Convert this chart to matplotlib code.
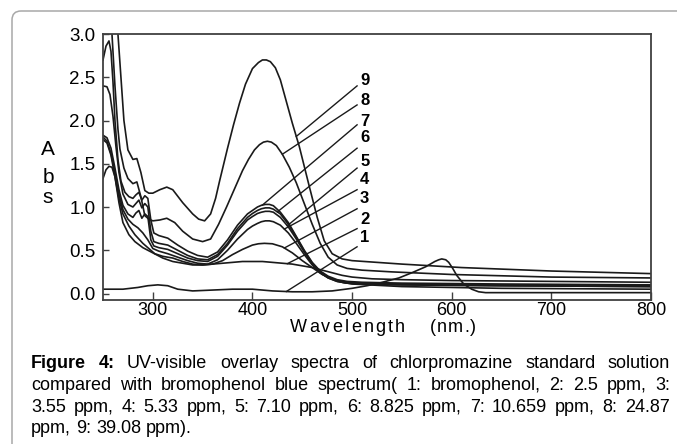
import numpy as np
import matplotlib
matplotlib.use('Agg')
import matplotlib.pyplot as plt
from matplotlib.patches import FancyBboxPatch

plt.rcParams['font.family'] = ['Liberation Sans', 'DejaVu Sans']

W, H = 677, 444

# spectra (wavelength nm, absorbance)
wl_1 = [250, 270, 285, 295, 305, 315, 325, 340, 360, 380, 400, 420, 440, 460, 480, 500,
        515, 527, 547, 560, 574, 583, 587, 590, 594, 597, 601, 605, 612, 620, 627, 634, 645, 660, 800]
abs_1 = [0.05, 0.05, 0.07, 0.09, 0.10, 0.09, 0.05, 0.03, 0.04, 0.05, 0.05, 0.03, 0.02, 0.02, 0.03, 0.06,
         0.09, 0.12, 0.18, 0.24, 0.31, 0.37, 0.39, 0.40, 0.39, 0.36, 0.29, 0.21, 0.11, 0.05, 0.02, 0.01, 0.01, 0.01, 0.01]

wl_2 = [250, 253, 256, 259, 262, 266, 270, 276, 282, 290, 300, 310, 320, 330, 340, 350, 360, 370,
        380, 390, 400, 410, 420, 430, 440, 450, 460, 470, 480, 490, 500, 520, 550, 600, 700, 800]
abs_2 = [1.33, 1.43, 1.47, 1.46, 1.35, 1.05, 0.82, 0.68, 0.60, 0.53, 0.47, 0.41, 0.37, 0.35, 0.33, 0.33, 0.34, 0.35,
         0.36, 0.37, 0.37, 0.37, 0.36, 0.35, 0.34, 0.32, 0.30, 0.27, 0.24, 0.21, 0.19, 0.17, 0.16, 0.15, 0.14, 0.13]

wl_3 = [250, 254, 258, 262, 266, 270, 276, 282, 290, 296, 302, 310, 320, 330, 340, 350, 360, 370, 380,
        390, 400, 406, 412, 420, 430, 440, 450, 460, 470, 480, 490, 500, 550, 650, 800]
abs_3 = [1.78, 1.74, 1.60, 1.35, 1.10, 0.92, 0.78, 0.68, 0.58, 0.52, 0.46, 0.43, 0.41, 0.37, 0.34, 0.33, 0.34, 0.38, 0.45,
         0.51, 0.56, 0.575, 0.58, 0.575, 0.54, 0.47, 0.38, 0.30, 0.22, 0.17, 0.13, 0.11, 0.08, 0.06, 0.05]

wl_4 = [250, 254, 258, 262, 266, 270, 275, 280, 285, 290, 295, 300, 306, 315, 325, 335, 345, 355, 365, 375,
        385, 395, 400, 405, 409, 413, 417, 421, 428, 436, 444, 452, 460, 468, 476, 485, 495, 510, 550, 650, 800]
abs_4 = [1.81, 1.76, 1.62, 1.40, 1.15, 0.97, 0.86, 0.80, 0.76, 0.70, 0.62, 0.52, 0.49, 0.46, 0.42, 0.38, 0.35, 0.34, 0.39, 0.50,
         0.63, 0.74, 0.78, 0.81, 0.83, 0.84, 0.84, 0.83, 0.79, 0.70, 0.58, 0.45, 0.33, 0.24, 0.18, 0.14, 0.12, 0.11, 0.10, 0.09, 0.08]

wl_5 = [250, 254, 258, 262, 266, 270, 275, 280, 283, 286, 289, 292, 295, 298, 301, 306, 315, 325, 335, 345, 355, 365,
        375, 385, 395, 400, 405, 409, 413, 417, 421, 428, 436, 444, 452, 460, 468, 476, 485, 495, 510, 550, 650, 800]
abs_5 = [1.83, 1.80, 1.68, 1.45, 1.20, 1.02, 0.92, 0.88, 0.93, 0.96, 0.87, 0.92, 0.89, 0.62, 0.55, 0.53, 0.51, 0.46, 0.41, 0.38, 0.37, 0.43,
         0.56, 0.72, 0.85, 0.89, 0.925, 0.94, 0.95, 0.95, 0.94, 0.88, 0.77, 0.63, 0.48, 0.34, 0.24, 0.18, 0.14, 0.12, 0.11, 0.10, 0.09, 0.08]

wl_6 = [250, 254, 257, 260, 263, 266, 270, 275, 280, 283, 286, 289, 292, 295, 298, 301, 306, 315, 325, 335, 345, 355, 365,
        375, 385, 395, 400, 405, 409, 413, 417, 421, 428, 436, 444, 452, 460, 468, 476, 485, 495, 510, 550, 650, 800]
abs_6 = [2.40, 2.39, 2.30, 2.05, 1.70, 1.40, 1.15, 1.03, 1.00, 1.04, 1.08, 0.99, 1.04, 1.00, 0.72, 0.60, 0.58, 0.56, 0.50, 0.44, 0.40, 0.39, 0.45,
         0.58, 0.75, 0.88, 0.925, 0.96, 0.98, 0.99, 0.99, 0.975, 0.92, 0.80, 0.65, 0.49, 0.35, 0.25, 0.19, 0.15, 0.13, 0.12, 0.11, 0.10, 0.09]

wl_7 = [250, 253, 256, 258, 260, 262, 265, 268, 272, 276, 280, 283, 286, 289, 292, 295, 298, 301, 306, 315, 325, 335, 345,
        355, 365, 375, 385, 395, 400, 405, 409, 413, 417, 421, 428, 436, 444, 452, 460, 468, 476, 485, 495, 510, 550, 650, 800]
abs_7 = [2.70, 2.86, 2.92, 2.80, 2.45, 2.00, 1.55, 1.30, 1.17, 1.12, 1.10, 1.14, 1.17, 1.08, 1.13, 1.10, 0.85, 0.70, 0.67, 0.64, 0.56, 0.49, 0.44,
         0.42, 0.48, 0.62, 0.79, 0.92, 0.96, 1.00, 1.02, 1.03, 1.03, 1.015, 0.94, 0.82, 0.66, 0.50, 0.36, 0.26, 0.20, 0.16, 0.14, 0.13, 0.12, 0.11, 0.10]

wl_8 = [250, 256, 259, 262, 265, 267, 271, 275, 280, 284, 288, 292, 296, 300, 307, 314, 322, 330, 340, 350, 358, 366,
        374, 382, 390, 396, 402, 407, 411, 415, 419, 424, 430, 437, 444, 452, 460, 468, 476, 485, 495, 510, 540, 600, 700, 800]
abs_8 = [3.60, 3.30, 3.00, 2.40, 1.90, 1.67, 1.45, 1.33, 1.27, 1.29, 1.12, 0.90, 0.86, 0.84, 0.85, 0.87, 0.82, 0.72, 0.63, 0.60, 0.63, 0.80,
         1.00, 1.21, 1.42, 1.55, 1.66, 1.72, 1.75, 1.76, 1.75, 1.71, 1.61, 1.46, 1.28, 1.04, 0.80, 0.58, 0.42, 0.33, 0.29, 0.27, 0.25, 0.22, 0.19, 0.18]

wl_9 = [250, 258, 262, 265, 268, 271, 275, 280, 284, 288, 292, 296, 300, 307, 314, 320, 330, 340, 346, 352, 358, 363, 367,
        375, 381, 387, 393, 400, 406, 410, 414, 418, 423, 428, 434, 440, 447, 457, 465, 472, 480, 490, 500, 550, 610, 700, 800]
abs_9 = [3.60, 3.40, 3.20, 3.00, 2.50, 2.00, 1.66, 1.55, 1.56, 1.40, 1.19, 1.16, 1.16, 1.20, 1.23, 1.20, 1.05, 0.92, 0.86, 0.84, 0.92, 1.10, 1.30,
         1.68, 1.95, 2.20, 2.42, 2.60, 2.67, 2.70, 2.70, 2.68, 2.61, 2.47, 2.22, 1.97, 1.70, 1.24, 0.88, 0.61, 0.46, 0.40, 0.38, 0.34, 0.30, 0.26, 0.23]

spectra = [(wl_1, abs_1), (wl_2, abs_2), (wl_3, abs_3), (wl_4, abs_4), (wl_5, abs_5),
           (wl_6, abs_6), (wl_7, abs_7), (wl_8, abs_8), (wl_9, abs_9)]

curve_labels = ['1', '2', '3', '4', '5', '6', '7', '8', '9']
lead_wl = [434, 435, 432, 432, 435, 425, 410, 430, 444]
lead_end = [0.54, 0.75, 0.98, 1.20, 1.45, 1.68, 1.95, 2.18, 2.40]
label_y = [0.65, 0.86, 1.10, 1.32, 1.53, 1.80, 1.99, 2.23, 2.46]

caption_lines = [
    "Figure 4: UV-visible overlay spectra of chlorpromazine standard solution",
    "compared with bromophenol blue spectrum( 1: bromophenol, 2: 2.5 ppm, 3:",
    "3.55 ppm, 4: 5.33 ppm, 5: 7.10 ppm, 6: 8.825 ppm, 7: 10.659 ppm, 8: 24.87",
    "ppm, 9: 39.08 ppm).",
]

ink = '#1a1a1a'
axc = '#404040'

fig = plt.figure(figsize=(W / 100, H / 100), dpi=100)
renderer = fig.canvas.get_renderer()


def px(x, y):
    return x / W, (H - y) / H


# rounded frame around the figure
frame = FancyBboxPatch((0.12, -0.6), 7.5, (H - 11) / 100 + 0.6,
                       boxstyle='round,pad=0,rounding_size=0.09',
                       transform=fig.dpi_scale_trans, fill=False,
                       edgecolor='#a8a8a8', linewidth=1.1)
fig.patches.append(frame)

ax = fig.add_axes([103 / W, (H - 300) / H, 548 / W, 266 / H])
for (wl, a) in spectra:
    ax.plot(wl, a, color=ink, lw=1.2, solid_joinstyle='round')

for i, lab in enumerate(curve_labels):
    wl, a = spectra[i]
    y0 = np.interp(lead_wl[i], wl, a)
    ax.plot([lead_wl[i], 505], [y0, lead_end[i]], color=ink, lw=1.0)
    ax.text(508, label_y[i], lab, fontsize=12, fontweight='bold', ha='left', va='center')

ax.set_xlim(250, 800)
ax.set_ylim(-0.075, 3.0)
ax.set_xticks([300, 400, 500, 600, 700, 800])
ax.set_yticks([0.0, 0.5, 1.0, 1.5, 2.0, 2.5, 3.0])
ax.set_yticklabels(['0.0', '0.5', '1.0', '1.5', '2.0', '2.5', '3.0'])
ax.tick_params(axis='x', direction='in', length=6, width=1, color=axc, labelsize=13, pad=1.5)
ax.tick_params(axis='y', direction='in', length=4, width=1, color=axc, labelsize=13.5, pad=5.5)
for s in ax.spines.values():
    s.set_color(axc)
    s.set_linewidth(1.3)

# y label, letters stacked
for ch, yb in zip(['A', 'b', 's'], [155, 183, 203]):
    fig.text(*px(48, yb), ch, fontsize=15, ha='center', va='baseline')


def tracked(s, x0, y, track, size=13):
    x = x0
    for ch in s:
        t = fig.text(*px(x, y), ch, fontsize=size, va='baseline')
        x += t.get_window_extent(renderer).width + track


tracked('Wavelength', 290, 332, 2.2)
tracked('(nm.)', 430, 332, 1.0)


def justify(line, y, x0=31, x1=670, bold=0, just=True):
    words = line.split(' ')
    objs = []
    for i, w in enumerate(words):
        t = fig.text(0, 0, w, fontsize=13, va='baseline',
                     fontweight='bold' if i < bold else 'normal')
        objs.append(t)
    widths = [t.get_window_extent(renderer).width for t in objs]
    if just:
        gap = (x1 - x0 - sum(widths)) / (len(words) - 1)
    else:
        sp = fig.text(0, 0, 'a a', fontsize=13)
        sp2 = fig.text(0, 0, 'aa', fontsize=13)
        gap = sp.get_window_extent(renderer).width - sp2.get_window_extent(renderer).width
        sp.remove()
        sp2.remove()
    x = x0
    for t, w in zip(objs, widths):
        t.set_position(px(x, y))
        x += w + gap


baselines = [368, 390, 411.5, 433]
justify(caption_lines[0], baselines[0], bold=2)
justify(caption_lines[1], baselines[1])
justify(caption_lines[2], baselines[2])
justify(caption_lines[3], baselines[3], just=False)

fig.savefig('out.png', dpi=100)
